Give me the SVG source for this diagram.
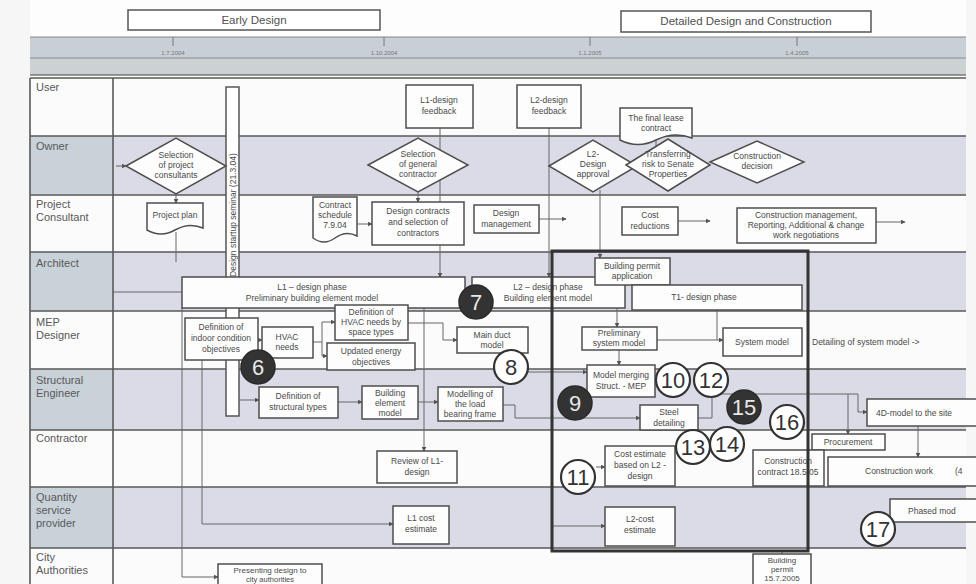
<svg xmlns="http://www.w3.org/2000/svg" width="976" height="584" viewBox="0 0 976 584">
<defs>
<marker id="ar" viewBox="0 0 8 8" refX="7" refY="4" markerWidth="5" markerHeight="5" orient="auto"><path d="M0,0 L8,4 L0,8 Z" fill="#555"/></marker>
<style>
.ls{fill:#dadbe6}
.lb{fill:#c9d1d9}
.lw{fill:#fbfbfb}
.bd{stroke:#5a5a5a;stroke-width:1.6;fill:none}
.box{fill:#fdfdfd;stroke:#4e4e4e;stroke-width:1.5}
.t{font-family:"Liberation Sans",Arial,sans-serif;font-size:8.5px;fill:#4a4a4a;text-anchor:middle}
.ts{text-anchor:start}
.lbl{font-family:"Liberation Sans",Arial,sans-serif;font-size:11px;fill:#595959}
.hd{font-family:"Liberation Sans",Arial,sans-serif;font-size:11.5px;fill:#505050;text-anchor:middle}
.cw{fill:#fff;stroke:#333;stroke-width:2.2}
.cd{fill:#333;stroke:#2a2a2a;stroke-width:1.5}
.n{font-family:"Liberation Sans",Arial,sans-serif;font-size:22px;fill:#333;text-anchor:middle}
.nw{fill:#e8e8e8}
.c{stroke:#666;stroke-width:1;fill:none}
.ca{stroke:#666;stroke-width:1;fill:none;marker-end:url(#ar)}
.tk{font-family:"Liberation Sans",Arial,sans-serif;font-size:6px;fill:#777;text-anchor:middle}
</style>
</defs>
<rect x="0" y="0" width="976" height="584" fill="#f6f6f6"/>
<rect x="30" y="0" width="936" height="584" fill="#fdfdfd"/>

<g id="headers">
<rect x="128" y="10" width="252" height="20" fill="#fff" stroke="#555" stroke-width="1.5"/>
<text class="hd" x="254" y="24">Early Design</text>
<rect x="621" y="11" width="250" height="21" fill="#fff" stroke="#555" stroke-width="1.5"/>
<text class="hd" x="746" y="25">Detailed Design and Construction</text>
</g>

<g id="timeline">
<rect x="30" y="37" width="936" height="21" fill="#c9cfd7"/>
<rect x="30" y="58" width="936" height="17" fill="#ccd2d4"/>
<line x1="30" y1="37" x2="966" y2="37" stroke="#888" stroke-width="1.2"/>
<line x1="30" y1="58" x2="966" y2="58" stroke="#8a8a8a" stroke-width="1.2"/>
<line x1="30" y1="75" x2="966" y2="75" stroke="#777" stroke-width="1.5"/>
<line x1="173" y1="37" x2="173" y2="46" stroke="#777"/>
<line x1="384" y1="37" x2="384" y2="46" stroke="#777"/>
<line x1="590" y1="37" x2="590" y2="46" stroke="#777"/>
<line x1="797" y1="37" x2="797" y2="46" stroke="#777"/>
<text class="tk" x="173" y="55">1.7.2004</text>
<text class="tk" x="384" y="55">1.10.2004</text>
<text class="tk" x="590" y="55">1.1.2005</text>
<text class="tk" x="797" y="55">1.4.2005</text>
</g>

<g id="lanes">
<rect class="lw" x="30" y="78" width="936" height="58"/>
<rect class="ls" x="113" y="136" width="853" height="59"/>
<rect class="lb" x="30" y="136" width="83" height="59"/>
<rect class="lw" x="30" y="195" width="936" height="57"/>
<rect class="ls" x="113" y="252" width="853" height="59"/>
<rect class="lb" x="30" y="252" width="83" height="59"/>
<rect class="lw" x="30" y="311" width="936" height="58"/>
<rect class="ls" x="113" y="369" width="853" height="61"/>
<rect class="lb" x="30" y="369" width="83" height="61"/>
<rect class="lw" x="30" y="430" width="936" height="57"/>
<rect class="ls" x="113" y="487" width="853" height="61"/>
<rect class="lb" x="30" y="487" width="83" height="61"/>
<rect class="lw" x="30" y="548" width="936" height="36"/>
<path class="bd" d="M30,78 H966 M30,136 H966 M30,195 H966 M30,252 H966 M30,311 H966 M30,369 H966 M30,430 H966 M30,487 H966 M30,548 H966 M30,78 V584 M113,78 V584"/>
<text class="lbl" x="36" y="91">User</text>
<text class="lbl" x="36" y="150">Owner</text>
<text class="lbl" x="36" y="208">Project</text>
<text class="lbl" x="36" y="221">Consultant</text>
<text class="lbl" x="36" y="267">Architect</text>
<text class="lbl" x="36" y="326">MEP</text>
<text class="lbl" x="36" y="339">Designer</text>
<text class="lbl" x="36" y="384">Structural</text>
<text class="lbl" x="36" y="397">Engineer</text>
<text class="lbl" x="36" y="442">Contractor</text>
<text class="lbl" x="36" y="501">Quantity</text>
<text class="lbl" x="36" y="514">service</text>
<text class="lbl" x="36" y="527">provider</text>
<text class="lbl" x="36" y="561">City</text>
<text class="lbl" x="36" y="574">Authorities</text>
</g>

<g id="connectors">
<path class="ca" d="M116,166 H126"/>
<path class="ca" d="M176,194 V203"/>
<path class="c" d="M176,232 V262"/>
<path class="c" d="M113,292 H182"/>
<path class="ca" d="M202,360 V524 H393"/>
<path class="ca" d="M182,308 V577 H218"/>
<path class="ca" d="M239,400 H259"/>
<path class="ca" d="M338,402 H362"/>
<path class="ca" d="M418,402 H438"/>
<path class="ca" d="M258,340 H262"/>
<path class="c" d="M313,342 H322 V322"/>
<path class="ca" d="M322,322 H335"/>
<path class="ca" d="M322,342 V356 H327"/>
<path class="ca" d="M440,128 V277"/>
<path class="ca" d="M418,192 V202"/>
<path class="ca" d="M549,128 V277"/>
<path class="ca" d="M600,190 V258"/>
<path class="c" d="M656,140 V148"/>
<path class="ca" d="M357,224 H372"/>
<path class="ca" d="M539,219 H566"/>
<path class="ca" d="M678,221 H710"/>
<path class="ca" d="M876,222 H905"/>
<path class="ca" d="M617,308 V327"/>
<path class="ca" d="M619,350 V365"/>
<path class="ca" d="M657,340 H723"/>
<path class="c" d="M717,310 V340"/>
<path class="ca" d="M408,323 H443 V340 H457"/>
<path class="ca" d="M528,372 H587"/>
<path class="ca" d="M503,405 H515 V418 H640"/>
<path class="c" d="M698,418 H712 V394 H858"/>
<path class="ca" d="M848,394 V434"/>
<path class="ca" d="M858,394 V412 H867"/>
<path class="ca" d="M918,426 V457"/>
<path class="ca" d="M596,467 H605"/>
<path class="ca" d="M553,526 H605"/>
<path class="ca" d="M424,308 V451"/>
<path class="c" d="M782,551 V554"/>
</g>

<g id="n-seminar">
<rect x="226" y="87" width="13" height="329" fill="#fff" stroke="#555" stroke-width="1.5"/>
<text class="t" transform="translate(235.5,215) rotate(-90)">Design startup seminar (21.3.04)</text>
</g>

<g id="n-l1feedback">
<rect class="box" x="406" y="85" width="67" height="43"/>
<text class="t" x="439" y="103">L1-design</text><text class="t" x="439" y="114">feedback</text>
</g>
<g id="n-l2feedback">
<rect class="box" x="517" y="85" width="64" height="43"/>
<text class="t" x="549" y="103">L2-design</text><text class="t" x="549" y="114">feedback</text>
</g>
<g id="n-lease">
<path class="box" d="M620,108 H692 V138 Q674,131 656,140 Q638,149 620,140 Z"/>
<text class="t" x="656" y="121">The final lease</text><text class="t" x="656" y="131">contract</text>
</g>

<g id="n-selcons">
<polygon class="box" points="126,166 176,138 226,166 176,194"/>
<text class="t" x="176" y="158">Selection</text><text class="t" x="176" y="168">of project</text><text class="t" x="176" y="178">consultants</text>
</g>
<g id="n-selgen">
<polygon class="box" points="368,165 418,138 468,165 418,192"/>
<text class="t" x="418" y="157">Selection</text><text class="t" x="418" y="167">of general</text><text class="t" x="418" y="177">contractor</text>
</g>
<g id="n-l2approval">
<polygon class="box" points="549,166 593,140 637,166 593,192"/>
<text class="t" x="593" y="157">L2-</text><text class="t" x="593" y="167">Design</text><text class="t" x="593" y="177">approval</text>
</g>
<g id="n-transfer">
<polygon class="box" points="626,165 668,139 710,165 668,191"/>
<text class="t" x="668" y="157">Transferring</text><text class="t" x="668" y="167">risk to Senate</text><text class="t" x="668" y="177">Properties</text>
</g>
<g id="n-constdec">
<polygon class="box" points="710,162 757,141 804,162 757,183"/>
<text class="t" x="757" y="159">Construction</text><text class="t" x="757" y="169">decision</text>
</g>

<g id="n-projplan">
<path class="box" d="M147,203 H203 V228 Q189,222 175,230 Q161,238 147,230 Z"/>
<text class="t" x="175" y="218">Project plan</text>
</g>
<g id="n-contract">
<path class="box" d="M313,197 H357 V236 Q346,230 335,238 Q324,246 313,238 Z"/>
<text class="t" x="335" y="208">Contract</text><text class="t" x="335" y="218">schedule</text><text class="t" x="335" y="228">7.9.04</text>
</g>
<g id="n-designcontracts">
<rect class="box" x="372" y="202" width="92" height="43"/>
<text class="t" x="418" y="214">Design contracts</text><text class="t" x="418" y="225">and selection of</text><text class="t" x="418" y="236">contractors</text>
</g>
<g id="n-designmgmt">
<rect class="box" x="474" y="205" width="65" height="28"/>
<text class="t" x="506" y="216">Design</text><text class="t" x="506" y="227">management</text>
</g>
<g id="n-costred">
<rect class="box" x="622" y="207" width="56" height="28"/>
<text class="t" x="650" y="218">Cost</text><text class="t" x="650" y="229">reductions</text>
</g>
<g id="n-constmgmt">
<rect class="box" x="737" y="208" width="139" height="35"/>
<text class="t" x="806" y="218">Construction management,</text><text class="t" x="806" y="228">Reporting, Additional &amp; change</text><text class="t" x="806" y="238">work negotiations</text>
</g>

<g id="n-l1phase">
<rect class="box" x="182" y="277" width="283" height="31"/>
<text class="t" x="312" y="290">L1 – design phase</text><text class="t" x="312" y="301">Preliminary building element model</text>
</g>
<g id="n-l2phase">
<rect class="box" x="472" y="277" width="153" height="31"/>
<text class="t" x="548" y="290">L2 – design phase</text><text class="t" x="548" y="301">Building element model</text>
</g>
<g id="n-permitapp">
<rect class="box" x="595" y="258" width="75" height="27"/>
<text class="t" x="632" y="269">Building permit</text><text class="t" x="632" y="279">application</text>
</g>
<g id="n-t1phase">
<rect class="box" x="632" y="285" width="170" height="25"/>
<text class="t" x="704" y="300">T1- design phase</text>
</g>

<g id="n-indoor">
<rect class="box" x="185" y="318" width="73" height="42"/>
<text class="t" x="221" y="330">Definition of</text><text class="t" x="221" y="341">indoor condition</text><text class="t" x="221" y="352">objectives</text>
</g>
<g id="n-hvacneeds">
<rect class="box" x="262" y="327" width="51" height="31"/>
<text class="t" x="287" y="340">HVAC</text><text class="t" x="287" y="350">needs</text>
</g>
<g id="n-hvacspace">
<rect class="box" x="335" y="305" width="73" height="35"/>
<text class="t" x="371" y="315">Definition of</text><text class="t" x="371" y="325">HVAC needs by</text><text class="t" x="371" y="335">space types</text>
</g>
<g id="n-energy">
<rect class="box" x="327" y="343" width="88" height="27"/>
<text class="t" x="371" y="354">Updated energy</text><text class="t" x="371" y="365">objectives</text>
</g>
<g id="n-mainduct">
<rect class="box" x="457" y="327" width="71" height="26"/>
<text class="t" x="492" y="338">Main duct</text><text class="t" x="492" y="348">model</text>
</g>
<g id="n-prelim">
<rect class="box" x="582" y="327" width="75" height="23"/>
<text class="t" x="619" y="336">Preliminary</text><text class="t" x="619" y="346">system model</text>
</g>
<g id="n-sysmodel">
<rect class="box" x="723" y="328" width="79" height="28"/>
<text class="t" x="762" y="345">System model</text>
</g>
<g id="n-detailing">
<text class="t ts" x="812" y="345">Detailing of system model -&gt;</text>
</g>

<g id="n-structtypes">
<rect class="box" x="259" y="387" width="79" height="31"/>
<text class="t" x="298" y="399">Definition of</text><text class="t" x="298" y="410">structural types</text>
</g>
<g id="n-bem">
<rect class="box" x="362" y="386" width="56" height="33"/>
<text class="t" x="390" y="396">Building</text><text class="t" x="390" y="406">element</text><text class="t" x="390" y="416">model</text>
</g>
<g id="n-loadframe">
<rect class="box" x="438" y="387" width="65" height="34"/>
<text class="t" x="470" y="397">Modelling of</text><text class="t" x="470" y="407">the load</text><text class="t" x="470" y="417">bearing frame</text>
</g>
<g id="n-merging">
<rect class="box" x="587" y="365" width="68" height="32"/>
<text class="t" x="621" y="378">Model merging</text><text class="t" x="621" y="389">Struct. - MEP</text>
</g>
<g id="n-steel">
<rect class="box" x="640" y="405" width="58" height="25"/>
<text class="t" x="669" y="415">Steel</text><text class="t" x="669" y="426">detailing</text>
</g>
<g id="n-4d">
<rect class="box" x="867" y="399" width="110" height="27"/>
<text class="t ts" x="876" y="416">4D-model to the site</text>
</g>

<g id="n-review">
<rect class="box" x="377" y="451" width="80" height="32"/>
<text class="t" x="417" y="464">Review of L1-</text><text class="t" x="417" y="475">design</text>
</g>
<g id="n-costest">
<rect class="box" x="605" y="446" width="70" height="40"/>
<text class="t" x="640" y="457">Cost estimate</text><text class="t" x="640" y="468">based on L2 -</text><text class="t" x="640" y="479">design</text>
</g>
<g id="n-procure">
<rect class="box" x="812" y="434" width="73" height="16"/>
<text class="t" x="848" y="445">Procurement</text>
</g>
<g id="n-constcontract">
<rect class="box" x="753" y="450" width="71" height="36"/>
<text class="t" x="788" y="464">Construction</text><text class="t" x="788" y="475">contract 18.5.05</text>
</g>
<g id="n-constwork">
<rect class="box" x="828" y="457" width="150" height="29"/>
<text class="t ts" x="865" y="474">Construction work</text><text class="t ts" x="955" y="474">(4</text>
</g>

<g id="n-l1cost">
<rect class="box" x="393" y="506" width="56" height="38"/>
<text class="t" x="421" y="521">L1 cost</text><text class="t" x="421" y="532">estimate</text>
</g>
<g id="n-l2cost">
<rect class="box" x="605" y="507" width="70" height="39"/>
<text class="t" x="640" y="522">L2-cost</text><text class="t" x="640" y="533">estimate</text>
</g>
<g id="n-phased">
<rect class="box" x="890" y="499" width="90" height="23"/>
<text class="t ts" x="908" y="514">Phased mod</text>
</g>

<g id="n-presenting">
<rect class="box" x="218" y="564" width="104" height="30"/>
<text class="t" x="270" y="573" style="font-size:8px">Presenting design to</text><text class="t" x="270" y="581.5" style="font-size:7.5px">city authorities</text>
</g>
<g id="n-permit">
<rect class="box" x="753" y="554" width="58" height="40"/>
<text class="t" x="782" y="563" style="font-size:8px">Building</text><text class="t" x="782" y="572" style="font-size:8px">permit</text><text class="t" x="782" y="581" style="font-size:8px">15.7.2005</text>
</g>

<g id="n-bigframe">
<rect x="552" y="251" width="256" height="300" fill="none" stroke="#333" stroke-width="3"/>
</g>

<g id="n-c6"><circle class="cd" cx="258" cy="367" r="17"/><text class="n nw" x="258" y="375">6</text></g>
<g id="n-c7"><circle class="cd" cx="476" cy="302" r="17"/><text class="n nw" x="476" y="310">7</text></g>
<g id="n-c8"><circle class="cw" cx="511" cy="367" r="17"/><text class="n" x="511" y="375">8</text></g>
<g id="n-c9"><circle class="cd" cx="575" cy="403" r="17"/><text class="n nw" x="575" y="411">9</text></g>
<g id="n-c10"><circle class="cw" cx="673" cy="380" r="17"/><text class="n" x="673" y="388">10</text></g>
<g id="n-c12"><circle class="cw" cx="711" cy="380" r="17"/><text class="n" x="711" y="388">12</text></g>
<g id="n-c15"><circle class="cd" cx="744" cy="407" r="17"/><text class="n nw" x="744" y="415">15</text></g>
<g id="n-c16"><circle class="cw" cx="787" cy="422" r="17"/><text class="n" x="787" y="430">16</text></g>
<g id="n-c13"><circle class="cw" cx="693" cy="447" r="17"/><text class="n" x="693" y="455">13</text></g>
<g id="n-c14"><circle class="cw" cx="727" cy="444" r="17"/><text class="n" x="727" y="452">14</text></g>
<g id="n-c11"><circle class="cw" cx="578" cy="477" r="17"/><text class="n" x="578" y="485">11</text></g>
<g id="n-c17"><circle class="cw" cx="878" cy="529" r="17"/><text class="n" x="878" y="537">17</text></g>
</svg>
